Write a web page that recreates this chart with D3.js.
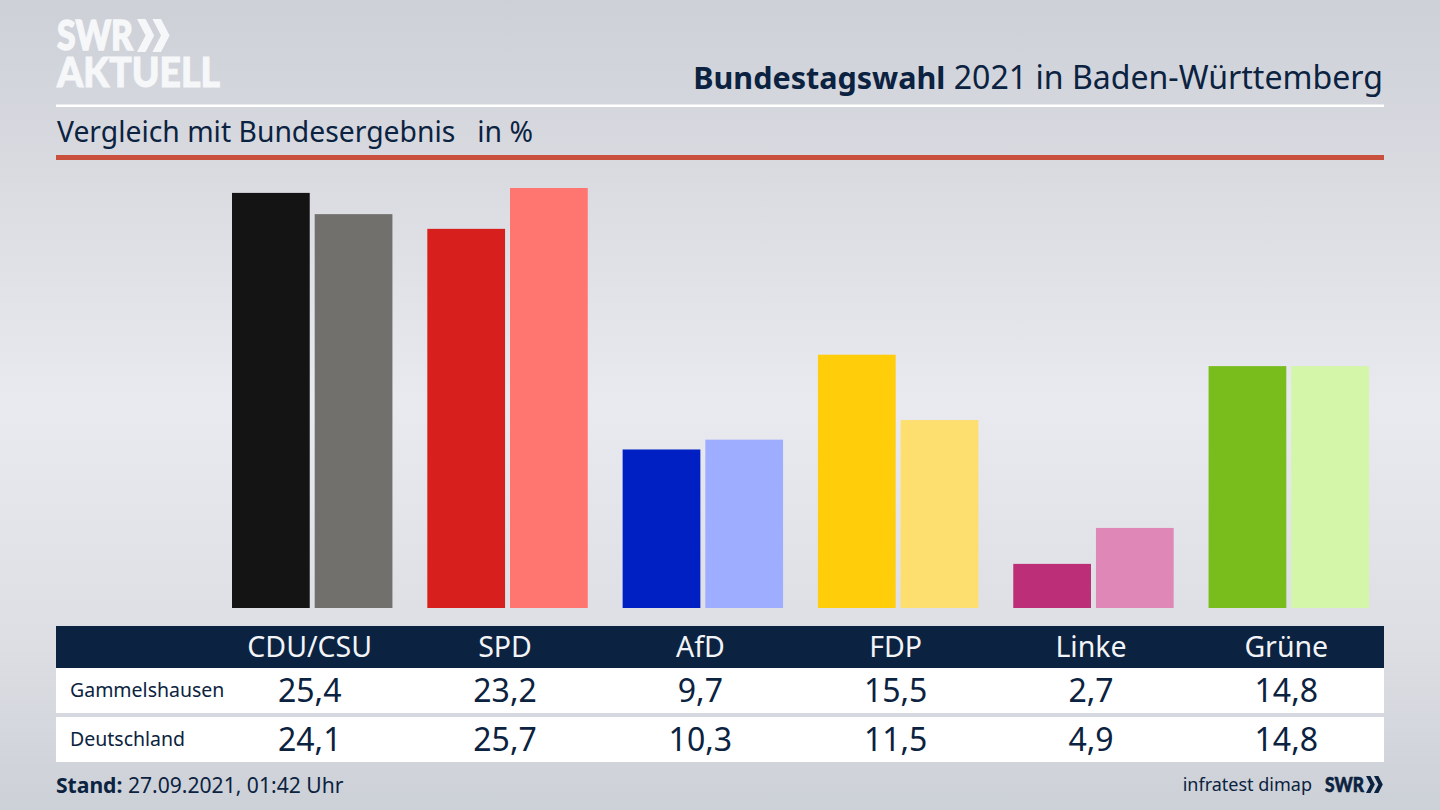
<!DOCTYPE html>
<html>
<head>
<meta charset="utf-8">
<script src="https://cdn.jsdelivr.net/npm/d3@7"></script>
<style>
  html, body { margin: 0; padding: 0; background: #d5d7dd; }
  svg { display: block; font-family: "Noto Sans", sans-serif; }
</style>
</head>
<body>
<svg id="chart" width="1440" height="810"></svg>
<script>
const parties = ["CDU/CSU", "SPD", "AfD", "FDP", "Linke", "Grüne"];
const regions = ["Gammelshausen", "Deutschland"];
const gammelshausen = [25.4, 23.2, 9.7, 15.5, 2.7, 14.8];
const deutschland = [24.1, 25.7, 10.3, 11.5, 4.9, 14.8];
const colorsLocal = ["#141414", "#d71f1d", "#0020c4", "#ffcd0a", "#bc2f78", "#78bd1c"];
const colorsFederal = ["#72706c", "#ff7570", "#9eadff", "#fddf70", "#df88b8", "#d3f6a8"];

const navy = "#0b2240";
const svg = d3.select("#chart");

// background, light band across the middle
const defs = svg.append("defs");
const bg = defs.append("linearGradient").attr("id", "bg").attr("x2", 0).attr("y2", 1);
[[0, "#cdd0d7"], [0.2, "#d8dae0"], [0.5, "#e9eaef"], [0.8, "#dcdee3"], [1, "#ccd0d7"]].forEach((s) =>
  bg.append("stop").attr("offset", s[0]).attr("stop-color", s[1])
);
svg.append("rect").attr("width", 1440).attr("height", 810).attr("fill", "url(#bg)");

// scales
const xParty = d3.scaleBand().domain(parties).range([232, 1369]).paddingInner(0.1786);
const xRegion = d3.scaleBand().domain(regions).range([0, xParty.bandwidth()]).paddingInner(0.06);
const y = d3.scaleLinear().domain([0, 25.7]).range([608, 188]);

// bars
const rows = parties.map((p, i) => ({
  party: p,
  bars: [
    { region: regions[0], value: gammelshausen[i], color: colorsLocal[i] },
    { region: regions[1], value: deutschland[i], color: colorsFederal[i] },
  ],
}));

svg
  .append("g")
  .selectAll("g")
  .data(rows)
  .join("g")
  .attr("transform", (d) => `translate(${xParty(d.party)},0)`)
  .selectAll("rect")
  .data((d) => d.bars)
  .join("rect")
  .attr("x", (d) => xRegion(d.region))
  .attr("y", (d) => y(d.value))
  .attr("width", xRegion.bandwidth())
  .attr("height", (d) => y(0) - y(d.value))
  .attr("fill", (d) => d.color);

// labels sit on the right edge of the first bar of each group
const labelX = (p) => xParty(p) + xRegion.bandwidth();

// table
svg.append("rect").attr("x", 56).attr("y", 626).attr("width", 1328).attr("height", 42).attr("fill", navy);
const rowTop = d3.scaleOrdinal().domain(regions).range([668, 717]);
svg
  .selectAll(".row-bg")
  .data(regions)
  .join("rect")
  .attr("class", "row-bg")
  .attr("x", 56)
  .attr("y", (d) => rowTop(d))
  .attr("width", 1328)
  .attr("height", 45)
  .attr("fill", "#fff");

svg
  .selectAll(".party-label")
  .data(parties)
  .join("text")
  .attr("class", "party-label")
  .attr("x", labelX)
  .attr("y", 657)
  .style("text-anchor", "middle")
  .style("font-size", "28.5px")
  .style("fill", "#f2f4f7")
  .text((d) => d);

svg
  .selectAll(".region-label")
  .data(regions)
  .join("text")
  .attr("class", "region-label")
  .attr("x", 70)
  .attr("y", (d) => rowTop(d) + 29)
  .style("font-size", "19.5px")
  .style("fill", navy)
  .text((d) => d);

const fmt = (v) => v.toFixed(1).replace(".", ",");
[gammelshausen, deutschland].forEach((values, r) => {
  svg
    .selectAll(".value-" + r)
    .data(values)
    .join("text")
    .attr("class", "value-" + r)
    .attr("x", (d, i) => labelX(parties[i]))
    .attr("y", rowTop(regions[r]) + 34)
    .style("text-anchor", "middle")
    .style("font-size", "32px")
    .style("fill", navy)
    .text(fmt);
});

// header
svg.append("rect").attr("x", 56).attr("y", 104.5).attr("width", 1328).attr("height", 2.5).attr("fill", "#fff");
svg.append("rect").attr("x", 56).attr("y", 155).attr("width", 1328).attr("height", 5).attr("fill", "#c9503c");

const title = svg
  .append("text")
  .attr("x", 1383)
  .attr("y", 89)
  .style("text-anchor", "end")
  .style("font-size", "32.1px")
  .style("fill", navy);
title.append("tspan").style("font-weight", 700).style("font-size", "30.5px").text("Bundestagswahl");
title.append("tspan").text(" 2021 in Baden-Württemberg");

svg
  .append("text")
  .attr("x", 57)
  .attr("y", 142)
  .style("white-space", "pre")
  .style("font-size", "28.3px")
  .style("fill", navy)
  .text("Vergleich mit Bundesergebnis   in %");

// footer
const stand = svg.append("text").attr("x", 56).attr("y", 793).style("font-size", "21.1px").style("fill", navy);
stand.append("tspan").style("font-weight", 700).text("Stand:");
stand.append("tspan").text(" 27.09.2021, 01:42 Uhr");

svg
  .append("text")
  .attr("x", 1312)
  .attr("y", 791)
  .style("text-anchor", "end")
  .style("font-size", "18px")
  .style("fill", navy)
  .text("infratest dimap");

// logos
function chevrons(x, top, h, fill) {
  const w = h * 0.52;
  const g = svg.append("g").attr("fill", fill);
  [0, w * 0.9].forEach((dx) => {
    const line = d3.line();
    g.append("path").attr(
      "d",
      line([
        [x + dx, top],
        [x + dx + w * 0.5, top],
        [x + dx + w, top + h / 2],
        [x + dx + w * 0.5, top + h],
        [x + dx, top + h],
        [x + dx + w * 0.5, top + h / 2],
      ]) + "Z"
    );
  });
}

function logoText(str, x, baseline, size, width, fill, stroke) {
  svg
    .append("text")
    .attr("x", x)
    .attr("y", baseline)
    .attr("textLength", width)
    .attr("lengthAdjust", "spacingAndGlyphs")
    .style("font-size", size + "px")
    .style("font-weight", 900)
    .style("font-family", "Lato, sans-serif")
    .style("fill", fill)
    .style("stroke", fill)
    .style("stroke-width", stroke)
    .text(str);
}

logoText("SWR", 57, 50, 41, 76, "#f6f7f9", 1.4);
chevrons(137, 19, 33, "#f6f7f9");
logoText("AKTUELL", 57, 87, 41, 163, "#f6f7f9", 1);

logoText("SWR", 1325, 792, 21, 39, navy, 0.6);
chevrons(1366, 776, 17, navy);
</script>
</body>
</html>
